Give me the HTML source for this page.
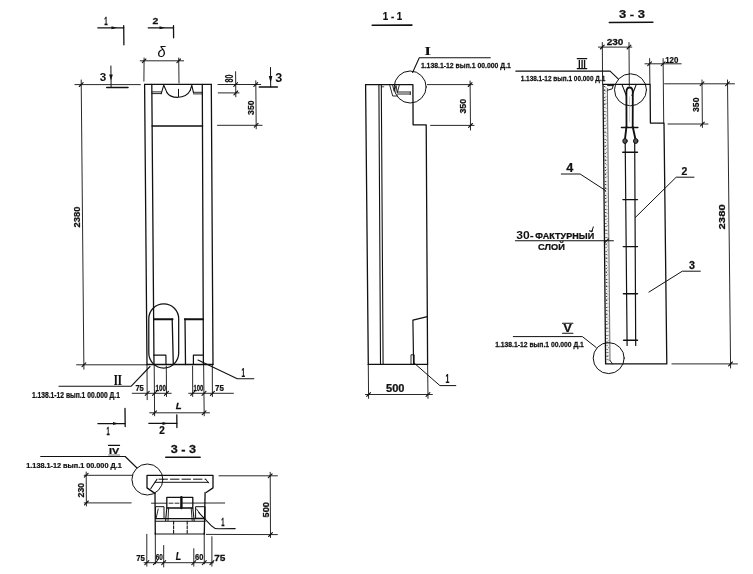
<!DOCTYPE html>
<html lang="ru"><head><meta charset="utf-8"><title>Чертёж</title>
<style>
html,body{margin:0;padding:0;background:#fff;}
body{width:753px;height:574px;overflow:hidden;}
svg{display:block;filter:blur(0.35px);}
svg line,svg polyline,svg path,svg circle,svg rect,svg ellipse{stroke:#111;fill:none;stroke-linecap:round;stroke-linejoin:round;}
svg text{fill:#111;stroke:none;}
</style></head><body>
<svg width="753" height="574" viewBox="0 0 753 574">
<rect x="0" y="0" width="753" height="574" style="fill:#fff;stroke:none"/>
<g id="front">
<line x1="144.6" y1="84.4" x2="211.3" y2="84.4" stroke-width="1.3"/>
<line x1="144.6" y1="84.4" x2="147.0" y2="364.5" stroke-width="1.3"/>
<line x1="211.3" y1="84.4" x2="213.0" y2="364.5" stroke-width="1.3"/>
<line x1="151.8" y1="84.4" x2="154.0" y2="364.5" stroke-width="1.3"/>
<line x1="202.3" y1="84.4" x2="203.4" y2="364.5" stroke-width="1.3"/>
<line x1="147.0" y1="364.5" x2="213.0" y2="364.5" stroke-width="1.3"/>
<line x1="152.1" y1="125.9" x2="202.5" y2="125.9" stroke-width="1.5"/>
<line x1="151.9" y1="91.9" x2="161.2" y2="91.9" stroke-width="0.9"/>
<line x1="151.9" y1="93.6" x2="161.2" y2="93.6" stroke-width="0.9"/>
<polyline points="161.2,93.6 163.8,85.2 167.0,92.6" stroke-width="1.1"/>
<path d="M167.0 92.6 C170.5 98.5 185 100.0 190.2 90.5" stroke-width="1.1"/>
<polyline points="190.2,90.5 191.8,85.2 193.5,92.8" stroke-width="1.1"/>
<line x1="193.5" y1="92.3" x2="202.4" y2="92.3" stroke-width="0.9"/>
<line x1="193.5" y1="93.9" x2="202.4" y2="93.9" stroke-width="0.9"/>
<line x1="178.5" y1="89.3" x2="178.5" y2="96.6" stroke-width="1.0"/>
<rect x="148.8" y="303.9" width="29.9" height="64.1" rx="14.9" ry="14.9" stroke-width="1.25"/>
<line x1="154.4" y1="319.3" x2="172.5" y2="319.3" stroke-width="2.0"/>
<line x1="172.2" y1="319.0" x2="173.3" y2="364.5" stroke-width="1.3"/>
<polyline points="153.8,355.2 165.9,355.2 166.0,364.5" stroke-width="1.2"/>
<line x1="185.0" y1="318.6" x2="185.5" y2="364.5" stroke-width="1.3"/>
<line x1="185.0" y1="319.3" x2="203.1" y2="319.3" stroke-width="2.0"/>
<polyline points="193.4,364.5 193.4,355.2 203.2,355.2" stroke-width="1.2"/>
<line x1="74.9" y1="84.6" x2="140.3" y2="84.6" stroke-width="0.9"/>
<line x1="81.2" y1="80.0" x2="83.9" y2="369.2" stroke-width="0.9"/>
<line x1="76.6" y1="364.8" x2="146.3" y2="364.8" stroke-width="0.9"/>
<line x1="79.3" y1="86.5" x2="83.1" y2="82.7" stroke-width="1.1"/>
<line x1="82.0" y1="366.7" x2="85.8" y2="362.9" stroke-width="1.1"/>
<text transform="translate(79.8,227.40) rotate(-90) scale(0.961,1)" font-size="9.78" font-weight="bold" font-family='"Liberation Sans", sans-serif' style="stroke:#111;stroke-width:0.25">2380</text>
<line x1="140.2" y1="60.8" x2="183.6" y2="60.8" stroke-width="0.9"/>
<line x1="144.1" y1="58.0" x2="143.9" y2="81.2" stroke-width="0.9"/>
<line x1="178.7" y1="58.0" x2="179.0" y2="83.0" stroke-width="0.9"/>
<line x1="142.3" y1="62.6" x2="145.9" y2="59.0" stroke-width="1.1"/>
<line x1="176.9" y1="62.6" x2="180.5" y2="59.0" stroke-width="1.1"/>
<text x="157.5" y="57.2" font-size="14.5" font-style="italic" font-family='"Liberation Sans", sans-serif'>δ</text>
<line x1="97.8" y1="27.8" x2="123.7" y2="27.8" stroke-width="1.3"/>
<line x1="123.7" y1="25.6" x2="123.9" y2="44.8" stroke-width="1.3"/>
<polygon points="117.0,27.8 111.5,26.3 111.5,29.3" fill="#111" stroke="none"/>
<text transform="translate(104.20,24.8) scale(0.548,1)" font-size="11.17" font-weight="bold" font-style="normal" font-family='"Liberation Sans", sans-serif' style="stroke:#111;stroke-width:0.25">1</text>
<line x1="148.2" y1="27.8" x2="173.5" y2="27.8" stroke-width="1.3"/>
<line x1="173.5" y1="25.6" x2="173.6" y2="37.8" stroke-width="1.3"/>
<polygon points="165.0,27.8 159.5,26.3 159.5,29.3" fill="#111" stroke="none"/>
<text transform="translate(152.40,24.4) scale(1.084,1)" font-size="9.64" font-weight="bold" font-style="normal" font-family='"Liberation Sans", sans-serif' style="stroke:#111;stroke-width:0.25">2</text>
<line x1="110.9" y1="66.0" x2="111.1" y2="87.6" stroke-width="1.0"/>
<polygon points="111.0,80.5 109.2,74.5 112.8,74.5" fill="#111" stroke="none"/>
<line x1="106.7" y1="87.6" x2="128.0" y2="87.6" stroke-width="1.5"/>
<text transform="translate(99.80,81.2) scale(1.061,1)" font-size="11.03" font-weight="bold" font-style="normal" font-family='"Liberation Sans", sans-serif' style="stroke:#111;stroke-width:0">3</text>
<line x1="270.5" y1="67.5" x2="270.7" y2="87.0" stroke-width="1.0"/>
<polygon points="270.6,83.0 268.8,76.0 272.4,76.0" fill="#111" stroke="none"/>
<line x1="259.3" y1="87.0" x2="277.4" y2="87.0" stroke-width="1.5"/>
<text transform="translate(275.20,82.4) scale(1.050,1)" font-size="12.01" font-weight="bold" font-style="normal" font-family='"Liberation Sans", sans-serif' style="stroke:#111;stroke-width:0">3</text>
<line x1="218.0" y1="84.5" x2="260.7" y2="84.5" stroke-width="0.9"/>
<line x1="218.2" y1="92.9" x2="239.1" y2="92.9" stroke-width="0.9"/>
<line x1="235.6" y1="71.7" x2="235.8" y2="96.8" stroke-width="0.9"/>
<line x1="233.8" y1="86.4" x2="237.6" y2="82.6" stroke-width="1.1"/>
<line x1="233.9" y1="94.8" x2="237.7" y2="91.0" stroke-width="1.1"/>
<text transform="translate(233.4,82.40) rotate(-90) scale(0.679,1)" font-size="10.47" font-weight="bold" font-family='"Liberation Sans", sans-serif' style="stroke:#111;stroke-width:0.25">80</text>
<line x1="255.8" y1="80.8" x2="256.2" y2="128.8" stroke-width="0.9"/>
<line x1="253.9" y1="86.4" x2="257.7" y2="82.6" stroke-width="1.1"/>
<line x1="254.3" y1="127.2" x2="258.1" y2="123.4" stroke-width="1.1"/>
<line x1="217.5" y1="125.3" x2="262.1" y2="125.3" stroke-width="0.9"/>
<text transform="translate(254.0,114.90) rotate(-90) scale(0.963,1)" font-size="9.08" font-weight="bold" font-family='"Liberation Sans", sans-serif' style="stroke:#111;stroke-width:0.25">350</text>
<polyline points="59.0,386.3 131.0,386.3 150.0,366.5" stroke-width="1.1"/>
<text transform="translate(113.70,384.7) scale(0.747,1)" font-size="14.25" font-weight="bold" font-style="normal" font-family='"Liberation Serif", serif' style="stroke:#111;stroke-width:0.25">II</text>
<text transform="translate(32.00,397.9) scale(0.814,1)" font-size="8.24" font-weight="bold" font-style="normal" font-family='"Liberation Sans", sans-serif' style="stroke:#111;stroke-width:0.25">1.138.1-12 вып.1 00.000 Д.1</text>
<line x1="132.2" y1="393.3" x2="171.2" y2="393.3" stroke-width="0.9"/>
<line x1="188.7" y1="393.3" x2="233.4" y2="393.3" stroke-width="0.9"/>
<line x1="147.0" y1="364.5" x2="147.2" y2="399.7" stroke-width="0.9"/>
<line x1="154.2" y1="364.5" x2="154.6" y2="415.8" stroke-width="0.9"/>
<line x1="166.3" y1="366.0" x2="166.5" y2="396.5" stroke-width="0.9"/>
<line x1="192.6" y1="366.0" x2="192.7" y2="396.5" stroke-width="0.9"/>
<line x1="203.6" y1="364.5" x2="204.2" y2="415.8" stroke-width="0.9"/>
<line x1="212.3" y1="364.5" x2="212.4" y2="396.5" stroke-width="0.9"/>
<line x1="145.2" y1="395.3" x2="149.2" y2="391.3" stroke-width="1.1"/>
<line x1="152.5" y1="395.3" x2="156.5" y2="391.3" stroke-width="1.1"/>
<line x1="164.4" y1="395.3" x2="168.4" y2="391.3" stroke-width="1.1"/>
<line x1="190.7" y1="395.3" x2="194.7" y2="391.3" stroke-width="1.1"/>
<line x1="202.0" y1="395.3" x2="206.0" y2="391.3" stroke-width="1.1"/>
<line x1="210.4" y1="395.3" x2="214.4" y2="391.3" stroke-width="1.1"/>
<text transform="translate(135.40,391.0) scale(0.847,1)" font-size="8.94" font-weight="bold" font-style="normal" font-family='"Liberation Sans", sans-serif' style="stroke:#111;stroke-width:0.25">75</text>
<text transform="translate(155.60,391.2) scale(0.703,1)" font-size="8.94" font-weight="bold" font-style="normal" font-family='"Liberation Sans", sans-serif' style="stroke:#111;stroke-width:0.25">100</text>
<text transform="translate(193.50,391.2) scale(0.663,1)" font-size="8.94" font-weight="bold" font-style="normal" font-family='"Liberation Sans", sans-serif' style="stroke:#111;stroke-width:0.25">100</text>
<text transform="translate(215.00,391.0) scale(0.887,1)" font-size="8.94" font-weight="bold" font-style="normal" font-family='"Liberation Sans", sans-serif' style="stroke:#111;stroke-width:0.25">75</text>
<line x1="149.7" y1="412.8" x2="209.5" y2="412.8" stroke-width="0.9"/>
<line x1="152.7" y1="414.7" x2="156.5" y2="410.9" stroke-width="1.1"/>
<line x1="202.2" y1="414.7" x2="206.0" y2="410.9" stroke-width="1.1"/>
<text transform="translate(175.70,409.4) scale(0.989,1)" font-size="9.78" font-weight="bold" font-style="italic" font-family='"Liberation Sans", sans-serif' style="stroke:#111;stroke-width:0.25">L</text>
<line x1="97.9" y1="423.6" x2="125.0" y2="423.6" stroke-width="1.3"/>
<line x1="125.0" y1="408.5" x2="125.2" y2="426.5" stroke-width="1.3"/>
<polygon points="118.5,423.6 113.0,422.1 113.0,425.1" fill="#111" stroke="none"/>
<text transform="translate(106.60,434.6) scale(0.558,1)" font-size="10.34" font-weight="bold" font-style="normal" font-family='"Liberation Sans", sans-serif' style="stroke:#111;stroke-width:0.25">1</text>
<line x1="148.9" y1="423.4" x2="176.8" y2="423.4" stroke-width="1.3"/>
<line x1="176.8" y1="414.8" x2="176.9" y2="427.6" stroke-width="1.3"/>
<polygon points="168.0,423.4 162.5,421.9 162.5,424.9" fill="#111" stroke="none"/>
<text transform="translate(159.30,433.6) scale(0.972,1)" font-size="10.20" font-weight="bold" font-style="normal" font-family='"Liberation Sans", sans-serif' style="stroke:#111;stroke-width:0.25">2</text>
<polyline points="198.0,360.1 237.3,378.7 253.8,378.7" stroke-width="1.1"/>
<text transform="translate(241.60,377.4) scale(0.486,1)" font-size="12.99" font-weight="bold" font-style="normal" font-family='"Liberation Sans", sans-serif' style="stroke:#111;stroke-width:0.25">1</text>
</g>
<g id="plan">
<text transform="translate(170.70,453.2) scale(1.105,1)" font-size="11.45" font-weight="bold" font-style="normal" font-family='"Liberation Sans", sans-serif' style="stroke:#111;stroke-width:0.25">3 - 3</text>
<line x1="165.7" y1="457.2" x2="200.2" y2="457.2" stroke-width="1.4"/>
<polyline points="40.7,456.5 125.2,456.5 137.0,468.0" stroke-width="1.1"/>
<text transform="translate(109.00,453.6) scale(1.104,1)" font-size="9.78" font-weight="bold" font-style="normal" font-family='"Liberation Sans", sans-serif' style="stroke:#111;stroke-width:0.25">IV</text>
<line x1="108.4" y1="445.4" x2="119.6" y2="445.4" stroke-width="1.1"/>
<line x1="108.6" y1="455.0" x2="119.6" y2="455.0" stroke-width="1.2" style="stroke:#777"/>
<text transform="translate(26.30,467.8) scale(0.930,1)" font-size="7.82" font-weight="bold" font-style="normal" font-family='"Liberation Sans", sans-serif' style="stroke:#111;stroke-width:0.25">1.138.1-12 вып.1 00.000 Д.1</text>
<circle cx="147.4" cy="479.5" r="15.5" stroke-width="1.0"/>
<line x1="86.2" y1="472.0" x2="86.4" y2="506.0" stroke-width="0.9"/>
<line x1="84.2" y1="475.3" x2="132.2" y2="475.3" stroke-width="0.9"/>
<line x1="84.2" y1="502.9" x2="131.2" y2="502.9" stroke-width="0.9"/>
<line x1="84.3" y1="477.2" x2="88.1" y2="473.4" stroke-width="1.1"/>
<line x1="84.5" y1="504.8" x2="88.3" y2="501.0" stroke-width="1.1"/>
<text transform="translate(84.2,497.40) rotate(-90) scale(0.934,1)" font-size="9.36" font-weight="bold" font-family='"Liberation Sans", sans-serif' style="stroke:#111;stroke-width:0.25">230</text>
<polyline points="154.9,493.4 147.0,487.9 147.0,475.3 213.0,475.3 213.0,487.9 206.5,492.3" stroke-width="1.3"/>
<line x1="155.0" y1="493.4" x2="155.3" y2="534.0" stroke-width="1.3"/>
<line x1="205.1" y1="492.3" x2="204.3" y2="534.0" stroke-width="1.3"/>
<line x1="159.0" y1="479.2" x2="205.8" y2="479.2" stroke-width="1.0" stroke-dasharray="8.5 3"/>
<line x1="157.0" y1="479.2" x2="150.8" y2="488.5" stroke-width="1.1"/>
<line x1="155.0" y1="482.3" x2="208.6" y2="482.3" stroke-width="1.0"/>
<line x1="205.8" y1="479.4" x2="208.6" y2="483.0" stroke-width="1.0"/>
<line x1="151.5" y1="503.2" x2="166.8" y2="503.2" stroke-width="0.9"/>
<line x1="169.0" y1="503.2" x2="180.0" y2="503.2" stroke-width="0.9" stroke-dasharray="4 2"/>
<line x1="181.4" y1="503.1" x2="224.7" y2="503.0" stroke-width="0.9"/>
<rect x="166.8" y="497.3" width="26" height="10.7" stroke-width="1.3"/>
<line x1="181.4" y1="497.3" x2="181.4" y2="508.0" stroke-width="2.4"/>
<polyline points="166.8,508.0 165.6,520.6" stroke-width="1.1"/>
<polyline points="192.8,508.0 194.2,520.6" stroke-width="1.1"/>
<polyline points="168.6,508.0 168.0,520.6" stroke-width="0.9"/>
<polyline points="191.2,508.0 192.2,520.6" stroke-width="0.9"/>
<rect x="155.9" y="506.7" width="8.1" height="11.8" stroke-width="1.0"/>
<line x1="156.2" y1="518.0" x2="158.2" y2="509.0" stroke-width="0.9"/>
<rect x="196" y="506.7" width="9.1" height="11.5" stroke-width="1.0"/>
<line x1="196.5" y1="509.0" x2="199.5" y2="513.0" stroke-width="0.9"/>
<line x1="155.4" y1="518.6" x2="205.2" y2="518.6" stroke-width="1.1"/>
<line x1="155.4" y1="521.2" x2="205.2" y2="521.2" stroke-width="1.1"/>
<line x1="155.3" y1="534.0" x2="204.3" y2="534.0" stroke-width="1.2"/>
<line x1="206.3" y1="534.4" x2="277.4" y2="534.6" stroke-width="0.9"/>
<line x1="173.6" y1="521.3" x2="173.6" y2="533.8" stroke-width="1.1" stroke-dasharray="3 1.5"/>
<line x1="187.2" y1="521.3" x2="187.2" y2="533.8" stroke-width="1.1" stroke-dasharray="3 1.5"/>
<path d="M198.8 512.6 L211.5 525.8 Q214.5 528.8 218 528.8 L235.2 528.6" stroke-width="1.1"/>
<text transform="translate(221.20,526.0) scale(0.491,1)" font-size="11.73" font-weight="bold" font-style="normal" font-family='"Liberation Sans", sans-serif' style="stroke:#111;stroke-width:0.25">1</text>
<line x1="144.1" y1="562.7" x2="213.4" y2="562.7" stroke-width="0.9"/>
<line x1="146.8" y1="534.3" x2="146.8" y2="566.2" stroke-width="0.9"/>
<line x1="155.3" y1="533.0" x2="155.4" y2="563.8" stroke-width="0.9"/>
<line x1="163.7" y1="545.5" x2="163.7" y2="567.0" stroke-width="0.9"/>
<line x1="193.8" y1="548.7" x2="193.8" y2="566.2" stroke-width="0.9"/>
<line x1="204.2" y1="533.0" x2="204.3" y2="563.8" stroke-width="0.9"/>
<line x1="211.9" y1="536.7" x2="211.9" y2="566.2" stroke-width="0.9"/>
<line x1="144.8" y1="564.7" x2="148.8" y2="560.7" stroke-width="1.1"/>
<line x1="153.4" y1="564.7" x2="157.4" y2="560.7" stroke-width="1.1"/>
<line x1="161.7" y1="564.7" x2="165.7" y2="560.7" stroke-width="1.1"/>
<line x1="191.8" y1="564.7" x2="195.8" y2="560.7" stroke-width="1.1"/>
<line x1="202.3" y1="564.7" x2="206.3" y2="560.7" stroke-width="1.1"/>
<line x1="209.9" y1="564.7" x2="213.9" y2="560.7" stroke-width="1.1"/>
<text transform="translate(136.20,561.1) scale(0.825,1)" font-size="9.50" font-weight="bold" font-style="normal" font-family='"Liberation Sans", sans-serif' style="stroke:#111;stroke-width:0.25">75</text>
<text transform="translate(155.80,559.8) scale(0.664,1)" font-size="9.64" font-weight="bold" font-style="normal" font-family='"Liberation Sans", sans-serif' style="stroke:#111;stroke-width:0.25">60</text>
<text transform="translate(175.70,559.8) scale(0.834,1)" font-size="10.61" font-weight="bold" font-style="italic" font-family='"Liberation Sans", sans-serif' style="stroke:#111;stroke-width:0.25">L</text>
<text transform="translate(195.10,559.8) scale(0.776,1)" font-size="9.64" font-weight="bold" font-style="normal" font-family='"Liberation Sans", sans-serif' style="stroke:#111;stroke-width:0.25">60</text>
<text transform="translate(214.20,560.6) scale(1.032,1)" font-size="9.78" font-weight="bold" font-style="normal" font-family='"Liberation Sans", sans-serif' style="stroke:#111;stroke-width:0.25">75</text>
<line x1="270.2" y1="472.3" x2="270.5" y2="537.5" stroke-width="0.9"/>
<line x1="219.0" y1="475.8" x2="277.4" y2="475.8" stroke-width="0.9"/>
<line x1="268.3" y1="477.7" x2="272.1" y2="473.9" stroke-width="1.1"/>
<line x1="268.6" y1="536.5" x2="272.4" y2="532.7" stroke-width="1.1"/>
<text transform="translate(268.8,517.40) rotate(-90) scale(1.032,1)" font-size="8.94" font-weight="bold" font-family='"Liberation Sans", sans-serif' style="stroke:#111;stroke-width:0.25">500</text>
</g>
<g id="side">
<text transform="translate(382.80,20.2) scale(0.841,1)" font-size="11.59" font-weight="bold" font-style="normal" font-family='"Liberation Sans", sans-serif' style="stroke:#111;stroke-width:0.25">1 - 1</text>
<line x1="372.2" y1="25.3" x2="411.9" y2="25.1" stroke-width="1.6"/>
<polyline points="490.3,57.8 419.3,57.8 412.6,72.5" stroke-width="1.1"/>
<text transform="translate(424.30,55.4) scale(1.300,1)" font-size="13.41" font-weight="bold" font-style="normal" font-family='"Liberation Serif", serif' style="stroke:#111;stroke-width:0">I</text>
<text transform="translate(420.90,67.8) scale(0.862,1)" font-size="7.96" font-weight="bold" font-style="normal" font-family='"Liberation Sans", sans-serif' style="stroke:#111;stroke-width:0.25">1.138.1-12 вып.1 00.000 Д.1</text>
<circle cx="410.2" cy="87.0" r="16.0" stroke-width="1.0"/>
<line x1="365.6" y1="84.6" x2="368.3" y2="364.4" stroke-width="1.3"/>
<polyline points="365.6,84.6 412.9,84.6 413.1,124.8 426.2,124.8 427.6,364.4 368.3,364.4" stroke-width="1.3"/>
<line x1="378.9" y1="84.6" x2="380.5" y2="364.4" stroke-width="1.1"/>
<line x1="381.3" y1="84.6" x2="383.1" y2="364.4" stroke-width="1.1"/>
<line x1="381.5" y1="86.8" x2="383.8" y2="86.8" stroke-width="0.8"/>
<polyline points="389.8,85.5 392.7,96.0 397.5,96.0" stroke-width="0.9"/>
<polyline points="392.7,85.5 394.2,91.4 396.0,85.5 397.3,92.7 399.2,85.5" stroke-width="0.9"/>
<line x1="397.3" y1="92.0" x2="410.3" y2="92.0" stroke-width="0.9"/>
<line x1="397.3" y1="94.0" x2="410.3" y2="94.0" stroke-width="0.9"/>
<line x1="410.3" y1="92.0" x2="410.3" y2="94.5" stroke-width="0.9"/>
<line x1="427.4" y1="84.6" x2="472.8" y2="84.6" stroke-width="0.9"/>
<line x1="430.6" y1="125.4" x2="474.0" y2="125.4" stroke-width="0.9"/>
<line x1="470.1" y1="81.0" x2="470.5" y2="130.0" stroke-width="0.9"/>
<line x1="468.2" y1="86.5" x2="472.0" y2="82.7" stroke-width="1.1"/>
<line x1="468.6" y1="127.3" x2="472.4" y2="123.5" stroke-width="1.1"/>
<text transform="translate(466.0,113.60) rotate(-90) scale(0.947,1)" font-size="9.36" font-weight="bold" font-family='"Liberation Sans", sans-serif' style="stroke:#111;stroke-width:0.25">350</text>
<polyline points="427.3,316.6 412.9,320.2 413.6,364.4" stroke-width="1.2"/>
<rect x="411.4" y="354.8" width="2.8" height="9.6" stroke-width="0.9"/>
<polyline points="414.4,363.3 439.9,385.6 455.8,385.6" stroke-width="1.0"/>
<text transform="translate(445.40,383.1) scale(0.577,1)" font-size="11.87" font-weight="bold" font-style="normal" font-family='"Liberation Sans", sans-serif' style="stroke:#111;stroke-width:0.25">1</text>
<line x1="365.5" y1="394.5" x2="432.4" y2="394.5" stroke-width="0.9"/>
<line x1="368.3" y1="364.4" x2="368.6" y2="398.4" stroke-width="0.9"/>
<line x1="427.6" y1="364.4" x2="428.0" y2="398.4" stroke-width="0.9"/>
<line x1="366.7" y1="396.4" x2="370.5" y2="392.6" stroke-width="1.1"/>
<line x1="426.1" y1="396.4" x2="429.9" y2="392.6" stroke-width="1.1"/>
<text transform="translate(386.00,392.4) scale(1.102,1)" font-size="10.06" font-weight="bold" font-style="normal" font-family='"Liberation Sans", sans-serif' style="stroke:#111;stroke-width:0.25">500</text>
</g>
<g id="section">
<text transform="translate(618.90,18.1) scale(1.121,1)" font-size="11.59" font-weight="bold" font-style="normal" font-family='"Liberation Sans", sans-serif' style="stroke:#111;stroke-width:0.25">3 - 3</text>
<line x1="609.3" y1="22.4" x2="652.9" y2="22.3" stroke-width="1.5"/>
<line x1="598.4" y1="47.1" x2="631.8" y2="47.1" stroke-width="0.9"/>
<line x1="602.3" y1="42.5" x2="602.6" y2="84.3" stroke-width="0.9"/>
<line x1="629.0" y1="42.5" x2="629.3" y2="86.0" stroke-width="0.9"/>
<line x1="600.4" y1="49.0" x2="604.2" y2="45.2" stroke-width="1.1"/>
<line x1="627.1" y1="49.0" x2="630.9" y2="45.2" stroke-width="1.1"/>
<text transform="translate(606.70,44.6) scale(1.038,1)" font-size="9.64" font-weight="bold" font-style="normal" font-family='"Liberation Sans", sans-serif' style="stroke:#111;stroke-width:0.25">230</text>
<line x1="645.0" y1="63.8" x2="681.2" y2="63.8" stroke-width="0.9"/>
<line x1="649.6" y1="58.6" x2="649.9" y2="84.3" stroke-width="0.9"/>
<line x1="663.1" y1="58.6" x2="663.7" y2="123.0" stroke-width="0.9"/>
<line x1="647.7" y1="65.7" x2="651.5" y2="61.9" stroke-width="1.1"/>
<line x1="661.2" y1="65.7" x2="665.0" y2="61.9" stroke-width="1.1"/>
<text transform="translate(665.20,62.6) scale(0.832,1)" font-size="9.50" font-weight="bold" font-style="normal" font-family='"Liberation Sans", sans-serif' style="stroke:#111;stroke-width:0.25">120</text>
<polyline points="515.8,71.1 610.1,71.1 618.2,78.9" stroke-width="1.1"/>
<text transform="translate(578.00,67.8) scale(0.837,1)" font-size="11.45" font-weight="bold" font-style="normal" font-family='"Liberation Sans", sans-serif' style="stroke:#111;stroke-width:0">III</text>
<line x1="577.2" y1="58.6" x2="586.8" y2="58.6" stroke-width="1.1"/>
<line x1="577.2" y1="68.6" x2="586.8" y2="68.6" stroke-width="1.1"/>
<text transform="translate(520.70,81.3) scale(0.811,1)" font-size="7.96" font-weight="bold" font-style="normal" font-family='"Liberation Sans", sans-serif' style="stroke:#111;stroke-width:0.25">1.138.1-12 вып.1 00.000 Д.1</text>
<circle cx="630.5" cy="89.8" r="16.0" stroke-width="1.0"/>
<polygon points="603,84.3 607.3,88.5 609.9,361 605.6,363.9" style="fill:#efefef;stroke:none"/>
<polyline points="605.6,363.9 603.0,84.3 650.1,84.3 650.4,123.1 664.0,123.1 666.8,363.9 605.6,363.9" stroke-width="1.3"/>
<line x1="607.4" y1="88.5" x2="610.0" y2="360.5" stroke-width="1.0" style="stroke:#666"/>
<line x1="604.6" y1="86.0" x2="607.2" y2="362.0" stroke-width="1.2" style="stroke:#444;stroke-linecap:butt" stroke-dasharray="1 2.6 1.4 2.2 0.8 3.0 1.1 1.9"/>
<line x1="606.0" y1="87.0" x2="608.6" y2="362.0" stroke-width="0.8" style="stroke:#777;stroke-linecap:butt" stroke-dasharray="0.8 3.1 1 4.2 0.7 2.4"/>
<polyline points="613.3,84.8 612.3,88.8 607.6,90.2" stroke-width="1.0"/>
<line x1="607.6" y1="85.6" x2="613.3" y2="85.6" stroke-width="1.0"/>
<polyline points="610.0,360.5 612.5,363.9" stroke-width="0.9"/>
<polyline points="622.0,84.6 626.3,95.5" stroke-width="1.1"/>
<polyline points="636.2,84.6 632.0,95.5" stroke-width="1.1"/>
<path d="M626.5 126.6 L626.4 92.5 C626.4 85.8 632.8 85.8 632.8 92.5 L632.7 126.6" stroke-width="1.8"/>
<line x1="629.5" y1="97.0" x2="629.6" y2="122.0" stroke-width="0.5" style="stroke:#999"/>
<line x1="621.4" y1="127.5" x2="637.9" y2="127.5" stroke-width="1.4"/>
<line x1="626.4" y1="127.0" x2="625.0" y2="139.0" stroke-width="1.9"/>
<line x1="632.8" y1="127.0" x2="635.4" y2="139.0" stroke-width="1.9"/>
<ellipse cx="625.0" cy="141" rx="2.2" ry="2.5" stroke-width="1.0" style="fill:#555"/>
<ellipse cx="635.7" cy="141" rx="2.2" ry="2.5" stroke-width="1.0" style="fill:#555"/>
<line x1="625.2" y1="143.0" x2="627.1" y2="345.5" stroke-width="1.2"/>
<line x1="634.7" y1="143.0" x2="635.7" y2="345.5" stroke-width="1.2"/>
<line x1="622.7" y1="152.3" x2="637.5" y2="152.3" stroke-width="1.4"/>
<line x1="622.9" y1="199.6" x2="637.5" y2="199.6" stroke-width="1.4"/>
<line x1="623.2" y1="246.6" x2="637.5" y2="246.6" stroke-width="1.4"/>
<line x1="623.4" y1="293.8" x2="637.5" y2="293.8" stroke-width="1.4"/>
<line x1="623.6" y1="340.2" x2="637.5" y2="340.2" stroke-width="1.4"/>
<line x1="664.6" y1="83.8" x2="734.5" y2="83.8" stroke-width="0.9"/>
<line x1="668.0" y1="124.0" x2="708.0" y2="124.0" stroke-width="0.9"/>
<line x1="702.0" y1="80.0" x2="702.4" y2="127.5" stroke-width="0.9"/>
<line x1="700.1" y1="85.7" x2="703.9" y2="81.9" stroke-width="1.1"/>
<line x1="700.5" y1="125.9" x2="704.3" y2="122.1" stroke-width="1.1"/>
<text transform="translate(699.2,112.00) rotate(-90) scale(0.942,1)" font-size="9.22" font-weight="bold" font-family='"Liberation Sans", sans-serif' style="stroke:#111;stroke-width:0.25">350</text>
<line x1="727.5" y1="80.0" x2="730.6" y2="368.0" stroke-width="0.9"/>
<line x1="671.9" y1="363.9" x2="737.4" y2="363.9" stroke-width="0.9"/>
<line x1="725.6" y1="85.7" x2="729.4" y2="81.9" stroke-width="1.1"/>
<line x1="728.6" y1="365.8" x2="732.4" y2="362.0" stroke-width="1.1"/>
<text transform="translate(725.4,229.40) rotate(-90) scale(1.188,1)" font-size="9.50" font-weight="bold" font-family='"Liberation Sans", sans-serif' style="stroke:#111;stroke-width:0.25">2380</text>
<polyline points="561.3,174.0 580.1,174.0 605.5,190.5" stroke-width="1.0"/>
<text transform="translate(566.20,172.4) scale(1.003,1)" font-size="12.57" font-weight="bold" font-style="normal" font-family='"Liberation Sans", sans-serif' style="stroke:#111;stroke-width:0.25">4</text>
<text transform="translate(516.20,239.1) scale(1.045,1)" font-size="11.59" font-weight="bold" font-style="normal" font-family='"Liberation Sans", sans-serif' style="stroke:#111;stroke-width:0">30-</text>
<text transform="translate(535.30,239.1) scale(1.013,1)" font-size="8.94" font-weight="bold" font-style="normal" font-family='"Liberation Sans", sans-serif' style="stroke:#111;stroke-width:0.25">ФАКТУРНЫЙ</text>
<line x1="591.7" y1="231.8" x2="593.3" y2="226.9" stroke-width="1.0"/>
<line x1="515.4" y1="240.8" x2="613.4" y2="240.8" stroke-width="1.1"/>
<line x1="604.5" y1="242.8" x2="608.5" y2="238.8" stroke-width="1.1"/>
<text transform="translate(538.10,250.3) scale(1.083,1)" font-size="8.52" font-weight="bold" font-style="normal" font-family='"Liberation Sans", sans-serif' style="stroke:#111;stroke-width:0.25">СЛОЙ</text>
<polyline points="635.4,217.4 676.2,177.2 694.0,177.2" stroke-width="1.0"/>
<text transform="translate(681.60,175.0) scale(1.011,1)" font-size="10.34" font-weight="bold" font-style="normal" font-family='"Liberation Sans", sans-serif' style="stroke:#111;stroke-width:0.25">2</text>
<polyline points="648.9,292.1 682.3,271.2 700.3,271.2" stroke-width="1.0"/>
<text transform="translate(689.00,268.8) scale(1.018,1)" font-size="10.61" font-weight="bold" font-style="normal" font-family='"Liberation Sans", sans-serif' style="stroke:#111;stroke-width:0.25">3</text>
<polyline points="513.3,336.6 582.4,336.6 596.2,347.5" stroke-width="1.0"/>
<text transform="translate(563.60,332.0) scale(1.193,1)" font-size="10.34" font-weight="bold" font-style="normal" font-family='"Liberation Sans", sans-serif' style="stroke:#111;stroke-width:0.25">V</text>
<line x1="562.5" y1="323.3" x2="572.9" y2="323.3" stroke-width="1.1"/>
<line x1="562.5" y1="333.2" x2="572.9" y2="333.2" stroke-width="1.1"/>
<text transform="translate(495.20,347.0) scale(0.866,1)" font-size="7.82" font-weight="bold" font-style="normal" font-family='"Liberation Sans", sans-serif' style="stroke:#111;stroke-width:0.25">1.138.1-12 вып.1 00.000 Д.1</text>
<circle cx="608.7" cy="358.1" r="15.5" stroke-width="1.0"/>
</g>
</svg>
</body></html>
